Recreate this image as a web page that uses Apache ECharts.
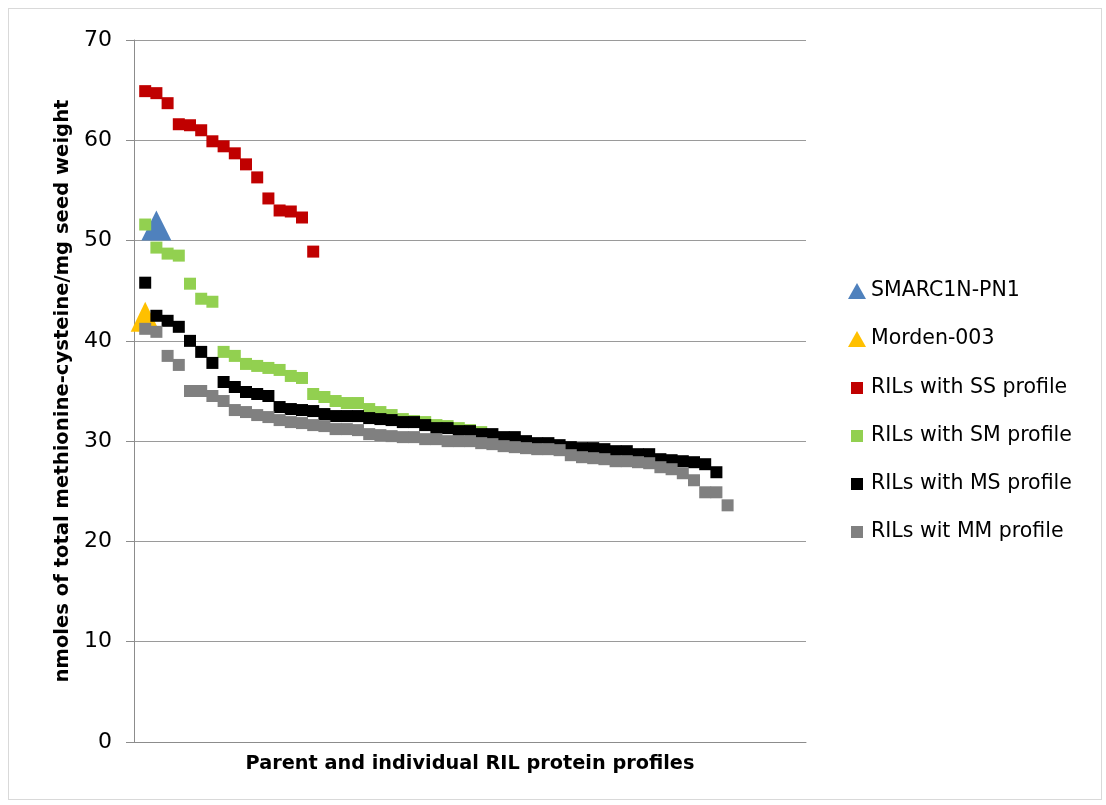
<!DOCTYPE html>
<html>
<head>
<meta charset="utf-8">
<script src="https://cdn.jsdelivr.net/npm/echarts@6/dist/echarts.min.js"></script>
<style>
  html, body { margin: 0; padding: 0; background: #ffffff; }
  #frame { position: absolute; left: 8px; top: 8px; width: 1094px; height: 792px; border: 1px solid #d9d9d9; box-sizing: border-box; }
  #chart { position: absolute; left: 0; top: 0; width: 1106px; height: 805px; }
</style>
</head>
<body>
<div id="frame"></div>
<div id="chart"></div>
<script>
// ---- data ----
const seriesNames = ['SMARC1N-PN1', 'Morden-003', 'RILs with SS profile', 'RILs with SM profile', 'RILs with MS profile', 'RILs wit MM profile'];
const yTicks = [0, 10, 20, 30, 40, 50, 60, 70];
const parentSMARC = [[2, 51.5]];
const parentMorden = [[1, 42.4]];
const ssValues = [64.9, 64.7, 63.7, 61.6, 61.5, 61.0, 59.9, 59.4, 58.7, 57.6, 56.3, 54.2, 53.0, 52.9, 52.3, 48.9];
const smValues = [51.6, 49.3, 48.7, 48.5, 45.7, 44.2, 43.9, 38.9, 38.5, 37.7, 37.5, 37.3, 37.1, 36.5, 36.3, 34.7, 34.4, 34.0, 33.8, 33.8, 33.2, 32.9, 32.6, 32.2, 32.0, 31.9, 31.6, 31.5, 31.3, 31.1, 30.9];
const msValues = [45.8, 42.5, 42.0, 41.4, 40.0, 38.9, 37.8, 35.9, 35.4, 34.9, 34.7, 34.5, 33.4, 33.2, 33.1, 33.0, 32.7, 32.5, 32.5, 32.5, 32.3, 32.2, 32.1, 31.9, 31.9, 31.6, 31.3, 31.3, 31.0, 31.0, 30.7, 30.7, 30.4, 30.4, 30.0, 29.8, 29.8, 29.6, 29.4, 29.3, 29.3, 29.2, 29.0, 29.0, 28.7, 28.7, 28.2, 28.1, 28.0, 27.9, 27.7, 26.9];
const mmValues = [41.2, 40.9, 38.5, 37.6, 35.0, 35.0, 34.5, 34.0, 33.1, 32.9, 32.6, 32.4, 32.1, 31.9, 31.8, 31.6, 31.5, 31.2, 31.2, 31.1, 30.7, 30.6, 30.5, 30.4, 30.4, 30.2, 30.2, 30.0, 30.0, 30.0, 29.8, 29.7, 29.5, 29.4, 29.3, 29.2, 29.2, 29.1, 28.6, 28.4, 28.3, 28.2, 28.0, 28.0, 27.9, 27.8, 27.4, 27.2, 26.8, 26.1, 24.9, 24.9, 23.6];
const colors = ['#4F81BD', '#FFC000', '#C00000', '#92D050', '#000000', '#808080'];

const ranked = arr => arr.map((v, i) => [i + 1, v]);
const FONT = 'DejaVu Sans';

const chart = echarts.init(document.getElementById('chart'), null, { renderer: 'canvas' });

const legendCenters = [291, 339, 388, 436, 484, 532];
const legends = seriesNames.map((name, i) => {
  const tri = i < 2;
  return {
    data: [{ name: name, icon: tri ? 'triangle' : 'rect' }],
    orient: 'vertical',
    left: tri ? 848 : 851,
    top: legendCenters[i] - 12,
    padding: 0,
    itemWidth: tri ? 18 : 12,
    itemHeight: tri ? 16 : 12,
    selectedMode: false,
    textStyle: { fontFamily: FONT, fontSize: 20.5, color: '#000', lineHeight: 24, padding: [0, 0, 0, tri ? 0 : 3] }
  };
});

const symSq = 12;
const solid = c => ({ color: c, opacity: 1 });
chart.setOption({
  animation: false,
  backgroundColor: 'transparent',
  color: colors,
  grid: { left: 134, right: 300, top: 40, bottom: 63, containLabel: false },
  legend: legends,
  xAxis: {
    type: 'value', min: 0, max: 60,
    name: 'Parent and individual RIL protein profiles',
    nameLocation: 'middle', nameGap: 12,
    nameTextStyle: { fontFamily: FONT, fontSize: 19.3, fontWeight: 'bold', color: '#000', verticalAlign: 'top' },
    axisLine: { show: true, onZero: false, lineStyle: { color: '#8c8c8c', width: 1 } },
    axisTick: { show: false }, axisLabel: { show: false }, splitLine: { show: false }
  },
  yAxis: {
    type: 'value', min: yTicks[0], max: yTicks[yTicks.length - 1], interval: 10,
    name: 'nmoles of total methionine-cysteine/mg seed weight',
    nameLocation: 'middle', nameGap: 61, nameRotate: 90,
    nameTextStyle: { fontFamily: FONT, fontSize: 19.6, fontWeight: 'bold', color: '#000' },
    axisLine: { show: true, lineStyle: { color: '#8c8c8c', width: 1 } },
    axisTick: { show: true, length: 8, lineStyle: { color: '#8c8c8c' } },
    axisLabel: { fontFamily: FONT, fontSize: 22, color: '#000', margin: 22 },
    splitLine: { show: true, lineStyle: { color: '#9a9a9a', width: 1 } }
  },
  series: [
    { name: seriesNames[0], type: 'scatter', data: parentSMARC, symbol: 'triangle', symbolSize: [30, 30], itemStyle: solid(colors[0]) },
    { name: seriesNames[1], type: 'scatter', data: parentMorden, symbol: 'triangle', symbolSize: [29, 30], itemStyle: solid(colors[1]) },
    { name: seriesNames[2], type: 'scatter', data: ranked(ssValues), symbol: 'rect', symbolSize: symSq, itemStyle: solid(colors[2]) },
    { name: seriesNames[3], type: 'scatter', data: ranked(smValues), symbol: 'rect', symbolSize: symSq, itemStyle: solid(colors[3]) },
    { name: seriesNames[4], type: 'scatter', data: ranked(msValues), symbol: 'rect', symbolSize: symSq, itemStyle: solid(colors[4]) },
    { name: seriesNames[5], type: 'scatter', data: ranked(mmValues), symbol: 'rect', symbolSize: symSq, itemStyle: solid(colors[5]) }
  ]
});
</script>
</body>
</html>
